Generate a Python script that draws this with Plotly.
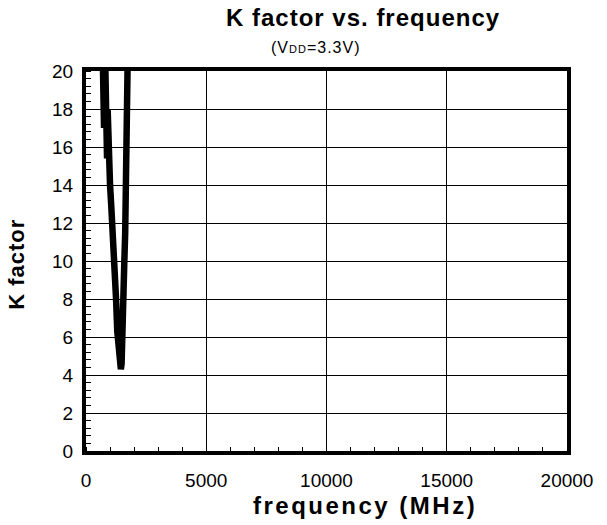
import plotly.graph_objects as go

# Measured stability factor K against frequency (VDD = 3.3 V)
freq_mhz = [650, 700, 725, 750, 800, 825, 850, 875, 900, 925, 950, 975,
            1000, 1050, 1100, 1150, 1200, 1250, 1300, 1350, 1400, 1450,
            1480, 1500, 1520, 1560, 1590, 1630, 1660, 1700, 1720, 1740, 1760]
k_factor = [24.0, 19.5, 21.5, 17.0, 20.5, 16.2, 19.0, 15.4, 18.0, 15.0, 16.8, 14.6,
            14.0, 12.9, 11.9, 10.8, 9.6, 8.0, 6.3, 5.3, 4.6, 4.3,
            4.6, 5.2, 6.4, 8.2, 9.8, 11.5, 13.5, 15.5, 18.0, 20.5, 23.0]

x_ticks = [0, 5000, 10000, 15000, 20000]
x_tick_text = ["0", "5000", "10000", "15000", "20000"]
y_ticks = [0, 2, 4, 6, 8, 10, 12, 14, 16, 18, 20]

FONT = "Liberation Sans, Arial, sans-serif"


def spaced(text, px):
    """Wrap text in a span with extra letter spacing."""
    return f"<span style='letter-spacing:{px}px'>{text}</span>"


fig = go.Figure()
fig.add_trace(go.Scatter(
    x=freq_mhz, y=k_factor, mode="lines",
    line=dict(color="black", width=6.5),
    showlegend=False, cliponaxis=True,
))

axis_common = dict(
    showline=True, linecolor="black", linewidth=4, mirror=True,
    showgrid=True, gridcolor="black", gridwidth=1.2,
    zeroline=False, ticks="", tickfont=dict(family=FONT, size=19, color="black"),
)

fig.update_xaxes(
    range=[0, 20000], tickvals=x_ticks, ticktext=x_tick_text,
    ticklabelstandoff=9,
    minor=dict(dtick=1000, ticks="inside", ticklen=4, tickcolor="black",
               tickwidth=1, showgrid=False),
    **axis_common,
)
fig.update_yaxes(
    range=[0, 20], tickvals=y_ticks,
    ticklabelstandoff=5,
    minor=dict(dtick=0.4, tick0=0, ticks="inside", ticklen=5, tickcolor="black",
               tickwidth=1, showgrid=False),
    **axis_common,
)

# Chart title and supply-voltage note
fig.add_annotation(
    text="<b>" + spaced("K factor vs. frequency", 1) + "</b>",
    xref="paper", yref="paper",
    x=0.575, y=1, yshift=54, showarrow=False, yanchor="middle",
    font=dict(family=FONT, size=24, color="black"),
)
fig.add_annotation(
    text=spaced("(V<span style='font-size:11px'>DD</span>=3.3V)", 1),
    xref="paper", yref="paper",
    x=0.477, y=1, yshift=24, showarrow=False, yanchor="middle",
    font=dict(family=FONT, size=16, color="black"),
)

# Axis titles
fig.add_annotation(
    text="<b>" + spaced("frequency (MHz)", 2.5) + "</b>",
    xref="paper", yref="paper",
    x=0.58, y=0, yshift=-54, showarrow=False, yanchor="middle",
    font=dict(family=FONT, size=24, color="black"),
)
fig.add_annotation(
    text="<b>" + spaced("K factor", 1) + "</b>",
    xref="paper", yref="paper",
    x=0, y=0.49, xshift=-69, showarrow=False, textangle=-90,
    xanchor="center", yanchor="middle",
    font=dict(family=FONT, size=22, color="black"),
)

fig.update_layout(
    width=607, height=525,
    margin=dict(l=86, r=40, t=71, b=74),
    paper_bgcolor="white", plot_bgcolor="white",
    font=dict(family=FONT, color="black"),
)

fig.write_html("out.html")
